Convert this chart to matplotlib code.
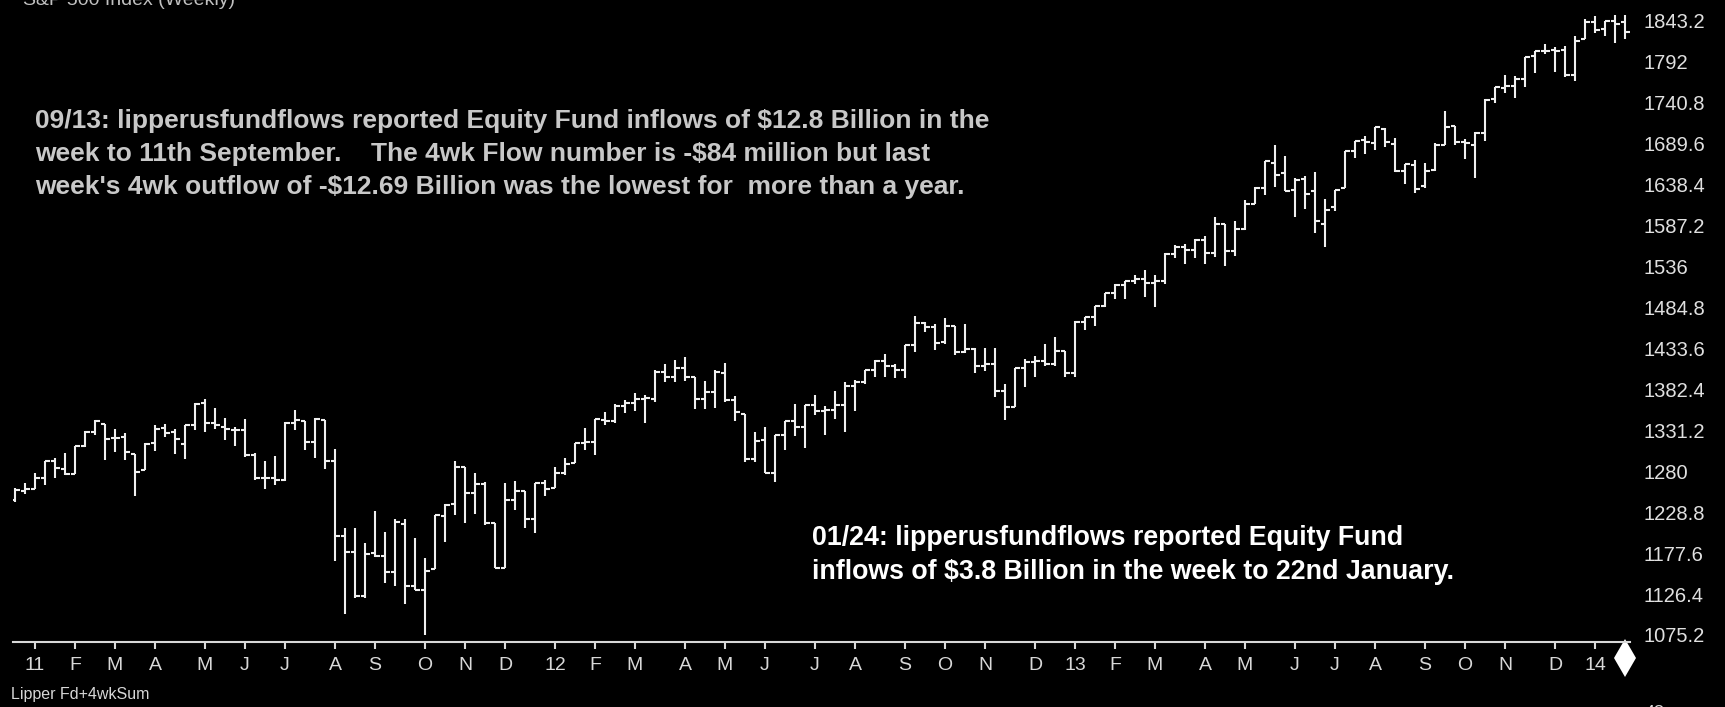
import matplotlib
matplotlib.use("Agg")
import matplotlib.pyplot as plt
import numpy as np
import pandas as pd

# weekly bars, week ending Fridays from 24 Dec 2010 to 24 Jan 2014
week_end = pd.date_range("2010-12-24", periods=162, freq="W-FRI")

opens = [1243.6, 1254.7, 1257.6, 1271.0, 1293.2, 1283.3, 1276.5, 1311.0, 1328.6, 1338.9,
         1321.6, 1322.7, 1301.2, 1281.6, 1315.5, 1333.6, 1329.0, 1313.4, 1337.1, 1365.2,
         1340.2, 1334.8, 1331.1, 1331.1, 1300.3, 1272.0, 1271.5, 1268.4, 1339.6, 1343.3,
         1315.9, 1344.3, 1292.6, 1198.5, 1178.9, 1123.6, 1177.9, 1174.0, 1153.5, 1214.0,
         1136.9, 1131.2, 1158.2, 1224.5, 1238.7, 1285.0, 1253.2, 1263.9, 1215.6, 1158.7,
         1244.3, 1255.1, 1219.7, 1265.0, 1258.9, 1277.8, 1290.2, 1315.3, 1316.2, 1344.3,
         1343.1, 1361.2, 1365.2, 1369.6, 1370.8, 1404.2, 1397.1, 1408.5, 1397.4, 1370.3,
         1378.5, 1403.3, 1368.8, 1351.9, 1295.7, 1318.9, 1278.3, 1325.7, 1342.6, 1334.8,
         1362.3, 1354.7, 1356.5, 1362.3, 1385.9, 1391.0, 1405.9, 1418.1, 1411.1, 1406.5,
         1437.9, 1465.4, 1460.1, 1440.9, 1460.9, 1428.8, 1433.2, 1411.9, 1414.0, 1379.9,
         1359.9, 1409.2, 1416.2, 1418.1, 1413.5, 1430.2, 1402.4, 1466.5, 1472.1, 1486.0,
         1502.9, 1513.1, 1517.9, 1519.8, 1515.6, 1518.2, 1551.2, 1560.7, 1556.9, 1569.2,
         1553.3, 1588.6, 1555.3, 1582.3, 1614.4, 1633.7, 1665.7, 1652.6, 1631.7, 1644.7,
         1630.6, 1588.8, 1609.8, 1634.2, 1679.6, 1694.4, 1690.3, 1708.0, 1688.4, 1655.3,
         1662.2, 1635.9, 1656.9, 1688.0, 1711.4, 1691.4, 1687.2, 1702.7, 1745.2, 1759.4,
         1761.9, 1769.7, 1798.8, 1804.8, 1806.6, 1806.5, 1775.4, 1819.6, 1841.5, 1832.3,
         1842.3, 1841.1]

highs = [1259.4, 1265.4, 1278.2, 1293.2, 1296.7, 1302.7, 1311.0, 1330.8, 1344.1, 1338.9,
         1332.3, 1327.7, 1301.2, 1315.4, 1337.9, 1339.5, 1333.2, 1337.5, 1364.6, 1370.6,
         1359.4, 1346.8, 1334.6, 1345.2, 1302.3, 1292.5, 1298.6, 1341.0, 1356.5, 1343.3,
         1347.0, 1344.3, 1307.4, 1208.5, 1208.5, 1190.7, 1230.7, 1204.4, 1220.4, 1220.4,
         1195.9, 1171.4, 1224.6, 1239.0, 1292.7, 1285.0, 1277.6, 1266.0, 1215.6, 1264.9,
         1267.1, 1255.1, 1265.4, 1269.4, 1284.6, 1296.8, 1315.5, 1333.5, 1345.3, 1354.3,
         1363.4, 1368.9, 1378.0, 1374.8, 1405.9, 1414.0, 1419.2, 1422.4, 1398.1, 1392.8,
         1406.6, 1415.3, 1373.9, 1351.9, 1328.5, 1334.9, 1325.8, 1343.3, 1363.5, 1362.2,
         1374.8, 1361.5, 1380.4, 1391.7, 1394.2, 1405.9, 1418.7, 1426.7, 1413.5, 1437.9,
         1474.5, 1467.0, 1463.9, 1471.0, 1460.9, 1464.0, 1433.8, 1434.3, 1433.4, 1388.8,
         1409.2, 1419.7, 1423.7, 1438.6, 1448.0, 1430.2, 1467.9, 1472.8, 1486.0, 1503.3,
         1514.4, 1518.3, 1524.7, 1530.9, 1525.8, 1552.5, 1563.3, 1563.6, 1570.3, 1573.7,
         1597.4, 1588.9, 1592.6, 1618.5, 1635.0, 1667.5, 1687.2, 1674.2, 1646.5, 1648.7,
         1654.2, 1620.1, 1632.0, 1680.2, 1693.1, 1698.8, 1709.7, 1709.2, 1696.8, 1664.1,
         1669.5, 1664.8, 1690.0, 1729.9, 1711.4, 1695.5, 1703.4, 1745.3, 1759.8, 1775.2,
         1774.5, 1798.2, 1804.8, 1813.6, 1810.0, 1811.5, 1823.8, 1844.9, 1849.4, 1843.2,
         1850.8, 1850.8]

lows = [1241.5, 1251.5, 1257.6, 1262.7, 1271.3, 1275.1, 1276.5, 1310.0, 1324.6, 1294.3,
        1303.4, 1294.3, 1249.1, 1281.6, 1305.3, 1322.9, 1302.0, 1294.7, 1331.5, 1329.2,
        1332.2, 1318.5, 1311.8, 1297.9, 1268.9, 1258.1, 1262.7, 1267.1, 1330.9, 1307.0,
        1295.9, 1282.9, 1168.1, 1101.5, 1121.1, 1121.1, 1172.7, 1140.1, 1136.1, 1114.2,
        1131.1, 1074.8, 1158.2, 1191.5, 1224.9, 1215.4, 1226.6, 1213.0, 1158.7, 1158.7,
        1231.5, 1209.5, 1202.4, 1248.6, 1258.9, 1274.6, 1290.2, 1306.1, 1300.5, 1337.5,
        1340.0, 1352.3, 1354.9, 1340.0, 1366.7, 1391.6, 1391.6, 1392.9, 1357.4, 1357.4,
        1358.8, 1367.0, 1343.1, 1292.0, 1291.0, 1277.8, 1266.7, 1306.6, 1324.4, 1309.3,
        1350.0, 1325.4, 1345.1, 1329.2, 1354.6, 1389.0, 1397.7, 1398.0, 1397.0, 1396.6,
        1429.1, 1454.0, 1431.0, 1439.0, 1425.5, 1427.2, 1403.3, 1405.0, 1373.0, 1343.4,
        1359.9, 1385.4, 1398.1, 1411.9, 1411.6, 1398.1, 1398.0, 1456.1, 1461.0, 1485.0,
        1495.0, 1495.0, 1514.1, 1497.3, 1485.0, 1514.0, 1547.0, 1538.6, 1546.2, 1539.5,
        1548.0, 1536.0, 1548.6, 1581.3, 1614.4, 1625.1, 1635.5, 1630.7, 1598.2, 1608.1,
        1577.7, 1560.3, 1604.6, 1634.2, 1671.8, 1676.0, 1681.9, 1684.9, 1654.2, 1639.4,
        1627.5, 1633.4, 1655.1, 1687.1, 1687.1, 1670.4, 1646.5, 1692.1, 1740.5, 1752.7,
        1746.2, 1760.6, 1777.2, 1800.9, 1779.1, 1772.3, 1768.0, 1819.6, 1827.7, 1823.7,
        1815.3, 1820.1]

closes = [1256.8, 1257.6, 1271.5, 1293.2, 1283.4, 1276.3, 1310.9, 1329.2, 1343.0, 1319.9,
          1321.2, 1304.3, 1279.2, 1313.8, 1332.4, 1328.2, 1319.7, 1337.4, 1363.6, 1340.2,
          1337.8, 1333.3, 1331.1, 1300.2, 1271.0, 1271.5, 1268.5, 1339.7, 1343.8, 1316.1,
          1345.0, 1292.3, 1199.4, 1178.8, 1123.5, 1176.8, 1174.0, 1154.2, 1216.0, 1136.4,
          1131.4, 1155.5, 1224.6, 1238.3, 1285.1, 1253.2, 1263.9, 1215.7, 1158.7, 1244.3,
          1255.2, 1219.7, 1265.3, 1257.6, 1277.8, 1289.1, 1315.4, 1316.3, 1344.9, 1342.6,
          1361.2, 1365.7, 1369.6, 1370.9, 1404.2, 1397.1, 1408.5, 1398.1, 1370.3, 1378.5,
          1403.4, 1369.1, 1353.4, 1295.2, 1317.8, 1278.0, 1325.7, 1342.8, 1335.0, 1362.2,
          1354.7, 1356.8, 1362.7, 1386.0, 1391.0, 1405.9, 1418.2, 1411.1, 1406.6, 1437.9,
          1465.8, 1460.2, 1440.7, 1460.9, 1428.6, 1433.2, 1411.9, 1414.2, 1379.9, 1359.9,
          1409.2, 1416.2, 1418.1, 1413.6, 1430.2, 1402.4, 1466.5, 1472.1, 1486.0, 1503.0,
          1513.2, 1517.9, 1519.8, 1515.6, 1518.2, 1551.2, 1560.7, 1556.9, 1569.2, 1553.3,
          1588.9, 1555.3, 1582.2, 1614.4, 1633.7, 1667.5, 1649.6, 1630.7, 1643.4, 1626.7,
          1592.4, 1606.3, 1631.9, 1680.2, 1692.1, 1691.7, 1709.7, 1691.4, 1655.8, 1663.5,
          1633.0, 1655.2, 1688.0, 1709.9, 1691.8, 1690.5, 1703.2, 1744.5, 1759.8, 1761.6,
          1770.6, 1798.2, 1804.8, 1805.8, 1805.1, 1775.3, 1818.3, 1841.4, 1831.4, 1842.4,
          1838.7, 1828.5]

y_levels = [1075.2, 1126.4, 1177.6, 1228.8, 1280, 1331.2, 1382.4, 1433.6, 1484.8,
            1536, 1587.2, 1638.4, 1689.6, 1740.8, 1792, 1843.2]
y_labels = ["1075.2", "1126.4", "1177.6", "1228.8", "1280", "1331.2", "1382.4", "1433.6",
            "1484.8", "1536", "1587.2", "1638.4", "1689.6", "1740.8", "1792", "1843.2"]

month_letters = ["J", "F", "M", "A", "M", "J", "J", "A", "S", "O", "N", "D"]

note_sep = ("09/13: lipperusfundflows reported Equity Fund inflows of $12.8 Billion in the\n"
            "week to 11th September.    The 4wk Flow number is -$84 million but last\n"
            "week's 4wk outflow of -$12.69 Billion was the lowest for  more than a year.")
note_jan = ("01/24: lipperusfundflows reported Equity Fund\n"
            "inflows of $3.8 Billion in the week to 22nd January.")

plt.rcParams['font.family'] = ['Liberation Sans', 'DejaVu Sans']

W, H = 1725, 707
fig = plt.figure(figsize=(W / 100, H / 100), dpi=100, facecolor="black")
ax = fig.add_axes([13 / W, (H - 642) / H, (1630 - 13) / W, 642 / H])
ax.set_facecolor("black")

x = np.arange(len(week_end))
o = np.array(opens)
h = np.array(highs)
l = np.array(lows)
c = np.array(closes)
bar_col = "#f0f0f0"
ax.vlines(x, l, h, colors=bar_col, lw=1.5)
ax.hlines(o, x - 0.45, x, colors=bar_col, lw=1.5)
ax.hlines(c, x, x + 0.45, colors=bar_col, lw=1.5)

ax.set_xlim(-0.2, 161.5)
ax.set_ylim(1066.45, 1868.95)

# month ticks at the first weekly bar of each month
tick_pos = []
tick_lab = []
for k in range(1, len(week_end)):
    if week_end[k].month != week_end[k - 1].month:
        tick_pos.append(k)
        if week_end[k].month == 1:
            tick_lab.append(week_end[k].strftime("%y"))
        else:
            tick_lab.append(month_letters[week_end[k].month - 1])
ax.set_xticks(tick_pos)
ax.set_xticklabels(tick_lab)
ax.tick_params(axis="x", direction="out", length=5, width=1.5, colors="#d8d8d8",
               labelcolor="#d8d8d8", labelsize=14, pad=6)

ax.yaxis.tick_right()
ax.set_yticks(y_levels)
ax.set_yticklabels(y_labels)
ax.tick_params(axis="y", length=0, pad=10, labelcolor="#e0e0e0", labelsize=14.5)

for s in ["top", "left", "right"]:
    ax.spines[s].set_visible(False)
ax.spines["bottom"].set_color("#d8d8d8")
ax.spines["bottom"].set_linewidth(1.5)

# scroll marker at the right end of the time axis
ax.plot([1625 / W], [(H - 658) / H], marker="d", markersize=19, markeredgewidth=0,
        color="white", transform=fig.transFigure, clip_on=False)

fig.text(23 / W, 1 - 5 / H, "S&P 500 Index (Weekly)", color="#c0c0c0", fontsize=14,
         va="baseline", ha="left")
fig.text(11 / W, 1 - 694 / H, "Lipper Fd+4wkSum", color="#d8d8d8", fontsize=11.5,
         va="center", ha="left")
fig.text(1645 / W, 1 - 714 / H, "48", color="#d8d8d8", fontsize=13, va="center", ha="left")

fig.text(35 / W, 1 - 109 / H, note_sep, color="#c8c8c8", fontsize=19, fontweight="bold",
         va="top", ha="left", linespacing=1.48)
fig.text(812 / W, 1 - 525 / H, note_jan, color="white", fontsize=19.3, fontweight="bold",
         va="top", ha="left", linespacing=1.42)

fig.savefig("out.png", dpi=100, facecolor="black")
